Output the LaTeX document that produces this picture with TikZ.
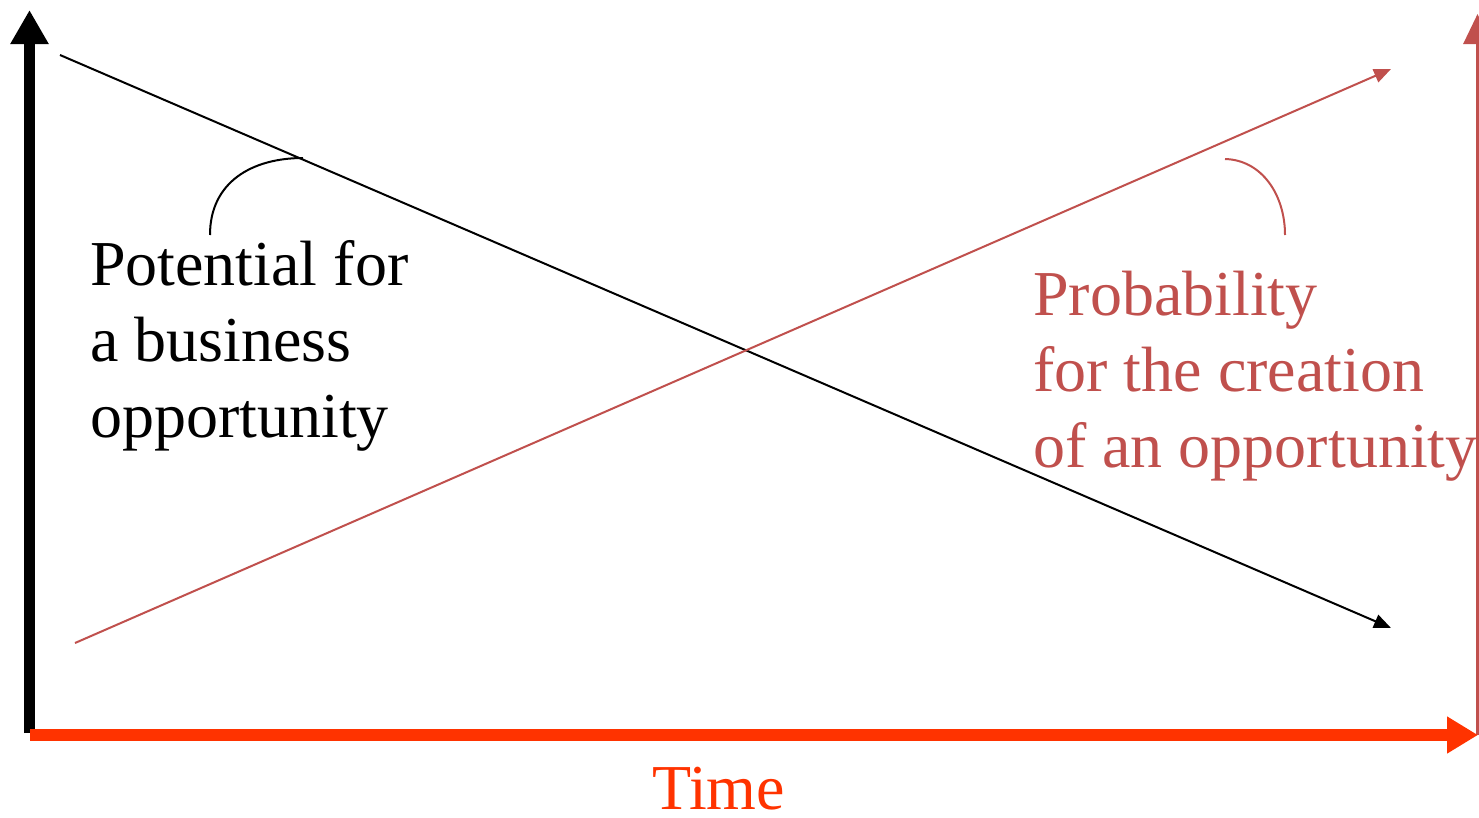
\documentclass[tikz,border=0pt]{standalone}
\usepackage{fontspec}
\setmainfont{Liberation Serif}
\usetikzlibrary{arrows.meta}
\definecolor{probred}{HTML}{C0504D}
\definecolor{timered}{HTML}{FF3300}
\begin{document}
\begin{tikzpicture}[x=1pt,y=-1pt,
  bigtext/.style={inner sep=0pt,align=left,font=\fontsize{64}{76}\selectfont},
  trend/.style={line width=2pt,-{Triangle[length=17pt,width=14pt]}},
  leader/.style={line width=2pt}]
  \useasboundingbox (0,0) rectangle (1479,817);

  % axes
  \coordinate (yb) at (29.5,733);
  \coordinate (yt) at (29.5,10);
  \coordinate (rb) at (1477.5,735);
  \coordinate (rt) at (1477.5,14);
  \coordinate (tl) at (30,735);
  \coordinate (tr) at (1478,735);
  \draw[line width=11pt,-{Triangle[length=34pt,width=36pt]}] (yb) -- (yt);
  \draw[probred,line width=3pt,-{Triangle[length=30pt,width=28pt]}] (rb) -- (rt);
  \draw[timered,line width=12pt,-{Triangle[length=31pt,width=35pt]}] (tl) -- (tr);

  % trend lines
  \coordinate (ps) at (60,55);
  \coordinate (pe) at (1391,628);
  \coordinate (qs) at (75,643);
  \coordinate (qe) at (1391,69);
  \draw[trend] (ps) -- (pe);
  \draw[trend,probred] (qs) -- (qe);

  % labels (base anchor sits on the last line)
  \node[bigtext,anchor=base west] (pot) at (90,437)
    {Potential for\\a business\\opportunity};
  \node[bigtext,anchor=base west,text=probred] (prob) at (1033,467)
    {Probability\\for the creation\\of an opportunity};
  \node[bigtext,anchor=base west,text=timered,text depth=0pt] (time) at (652,809) {Time};

  % leader curves
  \coordinate (la) at (210,235);
  \coordinate (lb) at (303,158);
  \coordinate (ma) at (1225,159);
  \coordinate (mb) at (1285,235);
  \draw[leader] (la) .. controls (210,182) and (252,158) .. (lb);
  \draw[leader,probred] (ma) .. controls (1262,160) and (1285,195) .. (mb);
\end{tikzpicture}
\end{document}
